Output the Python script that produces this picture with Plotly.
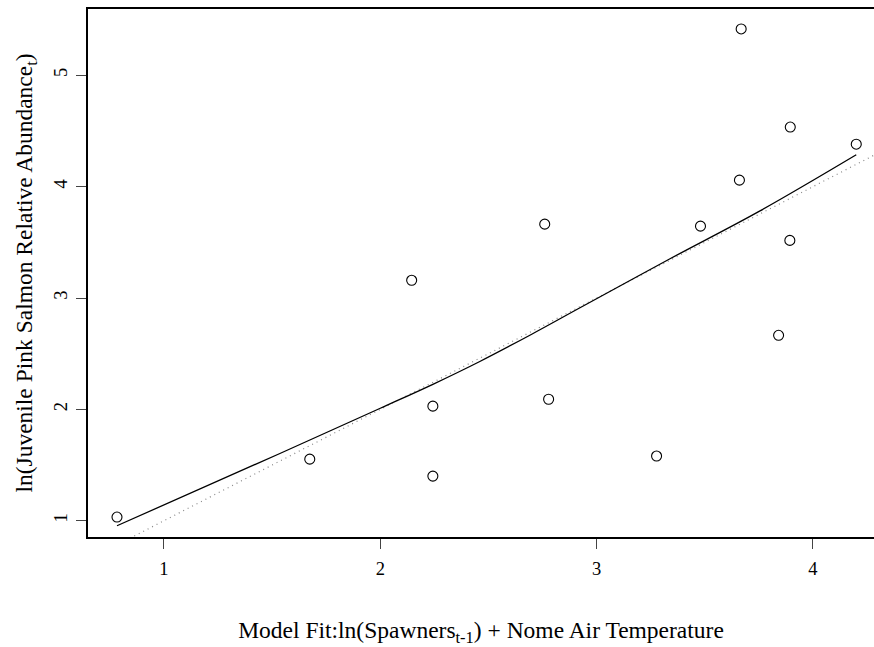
import plotly.graph_objects as go

# Observed data (model fit vs observed)
fit_x = [0.783, 1.674, 2.145, 2.243, 2.243, 2.760, 2.778, 3.277, 3.480, 3.660, 3.668, 3.841, 3.893, 3.895, 4.200]
obs_y = [1.033, 1.553, 3.159, 2.029, 1.401, 3.663, 2.091, 1.581, 3.645, 4.058, 5.416, 2.665, 3.517, 4.535, 4.381]

# Smoothed fitted curve
smooth_x = [0.783, 1.536, 2.000, 2.243, 2.460, 2.700, 2.921, 3.337, 3.753, 4.200]
smooth_y = [0.955, 1.604, 2.010, 2.225, 2.430, 2.675, 2.910, 3.350, 3.780, 4.286]

# 1:1 reference line
ref_x = [0.0, 5.0]
ref_y = [0.0, 5.0]

x_ticks = [1, 2, 3, 4]
y_ticks = [1, 2, 3, 4, 5]

FONT = "Liberation Serif"

fig = go.Figure()
fig.add_trace(go.Scatter(x=ref_x, y=ref_y, mode="lines",
                         line=dict(color="#888888", width=1.2, dash="1px,4px"),
                         showlegend=False, hoverinfo="skip"))
fig.add_trace(go.Scatter(x=smooth_x, y=smooth_y, mode="lines",
                         line=dict(color="black", width=1.3, shape="spline", smoothing=1.0),
                         showlegend=False))
fig.add_trace(go.Scatter(x=fit_x, y=obs_y, mode="markers",
                         marker=dict(symbol="circle-open", size=10, color="black",
                                     line=dict(width=1.1, color="black")),
                         showlegend=False))

fig.update_layout(
    width=874, height=647,
    margin=dict(l=88, r=0, t=9, b=110),
    paper_bgcolor="white", plot_bgcolor="white",
    font=dict(family=FONT, color="black", size=18),
    xaxis=dict(
        range=[0.649, 4.282], tickvals=x_ticks, ticktext=[str(v) for v in x_ticks],
        showgrid=False, zeroline=False, showline=True, linecolor="black", linewidth=2,
        mirror=True, ticks="outside", ticklen=10, tickwidth=1, tickcolor="#444444",
        tickfont=dict(family=FONT, size=18.5), ticklabelstandoff=4, automargin=False,
        title=dict(text="Model Fit:ln(Spawners<sub>t-1</sub>) + Nome Air Temperature",
                   font=dict(family=FONT, size=23.5), standoff=52),
    ),
    yaxis=dict(
        range=[0.854, 5.595], tickvals=y_ticks, ticktext=[str(v) for v in y_ticks],
        showgrid=False, zeroline=False, showline=True, linecolor="black", linewidth=2,
        mirror=False, ticks="outside", ticklen=10, tickwidth=1, tickcolor="#444444",
        tickangle=-90, tickfont=dict(family=FONT, size=18.5), ticklabelstandoff=2,
        automargin=False,
        title=dict(text="ln(Juvenile Pink Salmon Relative Abundance<sub>t</sub>)",
                   font=dict(family=FONT, size=23.5), standoff=11),
    ),
)

fig.write_html(
    "out.html",
    config={"displayModeBar": False},
    post_script="document.body.style.margin='0';document.body.style.overflow='hidden';",
)
